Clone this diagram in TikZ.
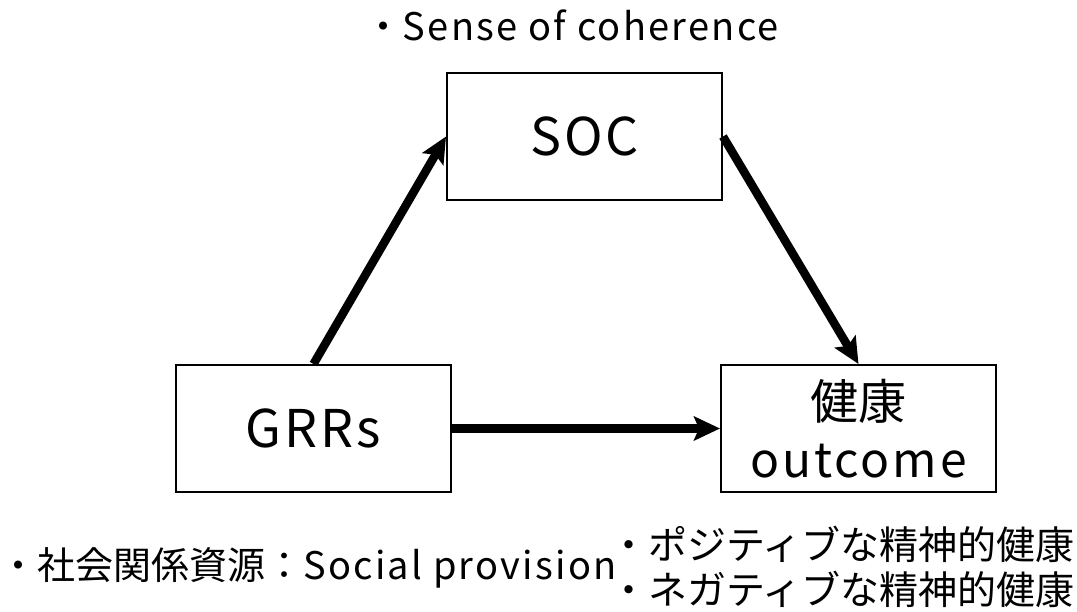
\documentclass[tikz,border=0pt]{standalone}
\usepackage{fontspec}
\setmainfont{Noto Sans CJK JP}
\newfontfamily\widelatin[LetterSpace=6]{Noto Sans CJK JP}
\usetikzlibrary{arrows.meta,positioning}

\begin{document}
\begin{tikzpicture}[x=1pt,y=-1pt,>=Stealth]
    \tikzstyle{box}=[rectangle, draw, line width=2pt, minimum width=275pt, minimum height=127pt, font=\fontsize{52}{58}\selectfont]
    \tikzstyle{link}=[->, line width=8.5pt, >={Stealth[length=26pt,width=24pt,inset=5pt]}]
    \tikzstyle{note}=[font=\fontsize{39}{45}\selectfont, inner sep=0pt]
    \useasboundingbox (0,0) rectangle (1077,611);

    \node[box]    	  (soc) at (584.5,136.5) {\widelatin SOC};
    \node[box]    	  (grrs) at (313.5,428.5) {\widelatin GRRs};
    \node[box, align=center, font=\fontsize{48}{58}\selectfont] (outcome) at (858.5,428.5) {健康\\\widelatin outcome};

    \draw[link] (grrs.north) -- (soc.west);
    \draw[link] (soc.east) -- (outcome.north);
    \draw[link] (grrs) -- (outcome);

    \node[note, font=\fontsize{38}{44}\selectfont] (soctext) at (572,25) {・{\widelatin Sense of coherence}};
    \node[note, font=\fontsize{38}{44}\selectfont] (grrstext) at (308,568) {・社会関係資源：{\widelatin Social provision}};
    \node[note, align=left] (outtext) at (842,567) {・ポジティブな精神的健康\\・ネガティブな精神的健康};
\end{tikzpicture}
\end{document}
